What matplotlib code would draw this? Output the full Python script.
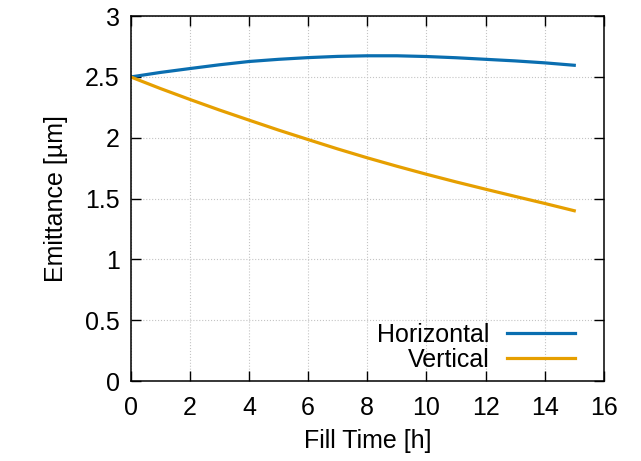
import matplotlib
matplotlib.use("Agg")
import matplotlib.pyplot as plt

# Fill time [h] and emittance [um]
fill_time = [0, 1, 2, 3, 4, 5, 6, 7, 8, 9, 10, 11, 12, 13, 14, 15]
horizontal = [2.500, 2.537, 2.569, 2.600, 2.627, 2.645, 2.659, 2.669,
              2.674, 2.674, 2.668, 2.658, 2.645, 2.632, 2.616, 2.596]
vertical = [2.500, 2.405, 2.315, 2.228, 2.145, 2.063, 1.985, 1.908,
            1.835, 1.766, 1.700, 1.637, 1.577, 1.518, 1.460, 1.400]

x_ticks = [0, 2, 4, 6, 8, 10, 12, 14, 16]
y_ticks = [0, 0.5, 1, 1.5, 2, 2.5, 3]
y_tick_labels = ["0", "0.5", "1", "1.5", "2", "2.5", "3"]

plt.rcParams['font.family'] = ['Liberation Sans', 'DejaVu Sans']

fig = plt.figure(figsize=(6.41, 4.61), dpi=100)
ax = fig.add_axes([0.204, 0.1735, 0.738, 0.7915])

ax.plot(fill_time, horizontal, color='#0a6eb0', lw=2.3, label='Horizontal')
ax.plot(fill_time, vertical, color='#e69f00', lw=2.3, label='Vertical')

ax.set_xlim(0, 16)
ax.set_ylim(0, 3)
ax.set_xticks(x_ticks)
ax.set_yticks(y_ticks)
ax.set_yticklabels(y_tick_labels)
ax.tick_params(direction='in', length=7, width=1, top=True, right=True,
               labelsize=18, pad=8)
ax.tick_params(axis='x', pad=11)
for s in ax.spines.values():
    s.set_linewidth(1.1)

ax.grid(True, color='#c4c4c4', linestyle=':', linewidth=0.8)

ax.set_xlabel('Fill Time [h]', fontsize=18, labelpad=6)
ax.set_ylabel('Emittance [µm]', fontsize=18, labelpad=12)

ax.legend(loc='lower right', frameon=False, markerfirst=False, fontsize=18,
          handlelength=2.7, handletextpad=0.7, labelspacing=0.05,
          borderaxespad=0.2, bbox_to_anchor=(0.97, -0.017))

fig.savefig('out.png', dpi=100)
